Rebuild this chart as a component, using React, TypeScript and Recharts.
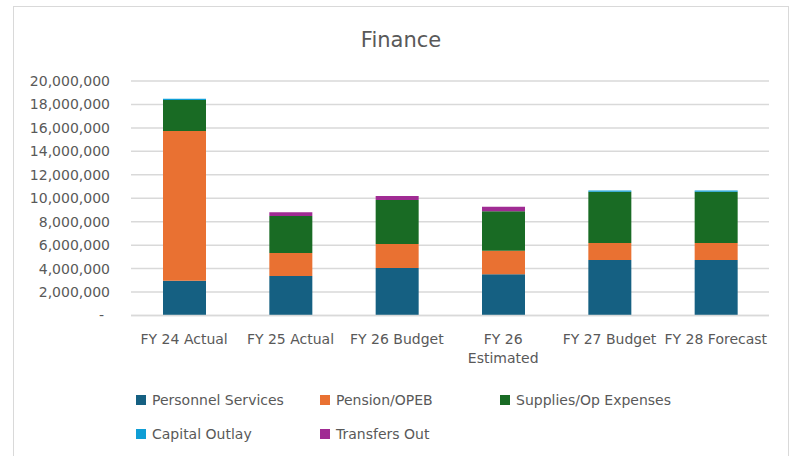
import { BarChart, Bar, XAxis, YAxis, CartesianGrid } from "recharts";

const categories = ["FY 24 Actual", "FY 25 Actual", "FY 26 Budget", "FY 26 Estimated", "FY 27 Budget", "FY 28 Forecast"];

const personnel = [2970000, 3370000, 4050000, 3510000, 4730000, 4730000];
const pension = [12770000, 1960000, 2050000, 2020000, 1450000, 1450000];
const supplies = [2640000, 3160000, 3750000, 3360000, 4380000, 4380000];
const capital = [100000, 0, 0, 0, 100000, 100000];
const transfers = [0, 320000, 340000, 380000, 0, 0];

const yTicks = [0, 2000000, 4000000, 6000000, 8000000, 10000000, 12000000, 14000000, 16000000, 18000000, 20000000];

const series = [
  { key: "personnel", name: "Personnel Services", color: "#156082", values: personnel },
  { key: "pension", name: "Pension/OPEB", color: "#E97132", values: pension },
  { key: "supplies", name: "Supplies/Op Expenses", color: "#196B24", values: supplies },
  { key: "capital", name: "Capital Outlay", color: "#0F9ED5", values: capital },
  { key: "transfers", name: "Transfers Out", color: "#A02B93", values: transfers },
];

const data = categories.map((c, i) => {
  const row: Record<string, string | number> = { cat: c };
  series.forEach((s) => (row[s.key] = s.values[i]));
  return row;
});

const FONT = "'DejaVu Sans', sans-serif";
const GRAY = "#595959";

const fmt = (n: number) => (n === 0 ? "-" : new Intl.NumberFormat("en-US").format(n));

function YTick({ x, y, payload }: any) {
  const zero = payload.value === 0;
  return (
    <text x={zero ? x - 6 : x} y={y} dy="0.35em" textAnchor="end" fill={GRAY} fontSize={14} fontFamily={FONT}>
      {fmt(payload.value)}
    </text>
  );
}

function XTick({ x, y, payload }: any) {
  const label: string = payload.value;
  let lines = [label];
  if (label.length > 14) {
    const cut = label.lastIndexOf(" ");
    lines = [label.slice(0, cut), label.slice(cut + 1)];
  }
  return (
    <text x={x} y={y} textAnchor="middle" fill={GRAY} fontSize={14} fontFamily={FONT}>
      {lines.map((l, i) => (
        <tspan key={i} x={x} dy={i === 0 ? 28.5 : 19}>
          {l}
        </tspan>
      ))}
    </text>
  );
}

export default function App() {
  return (
    <div style={{ position: "absolute", left: 0, top: 0, width: 789, height: 456, overflow: "hidden", background: "#fff", fontFamily: FONT }}>
      <div style={{ position: "absolute", left: 13, top: 6, width: 774, height: 470, border: "1.5px solid #d9d9d9" }} />
      <div style={{ position: "absolute", left: 301, width: 200, top: 28, textAlign: "center", fontSize: 21, color: GRAY }}>
        Finance
      </div>
      <div style={{ position: "absolute", left: 0, top: 0 }}>
        <BarChart width={789} height={456} data={data} margin={{ top: 81, right: 20, bottom: 80.5, left: 0 }}>
          <CartesianGrid vertical={false} stroke="#d9d9d9" strokeWidth={1.5} />
          <XAxis
            dataKey="cat"
            height={60}
            tickLine={false}
            tickSize={0}
            tickMargin={0}
            axisLine={{ stroke: "#d9d9d9", strokeWidth: 1.5 }}
            tick={<XTick />}
            interval={0}
          />
          <YAxis
            width={131}
            domain={[0, 20000000]}
            ticks={yTicks}
            tickLine={false}
            axisLine={false}
            tickSize={0}
            tickMargin={21}
            tick={<YTick />}
          />
          {series.map((s) => (
            <Bar key={s.key} dataKey={s.key} name={s.name} stackId="a" fill={s.color} barSize={43} isAnimationActive={false} />
          ))}
        </BarChart>
      </div>
      {series.map((s, i) => {
        const col = i % 3;
        const row = Math.floor(i / 3);
        const left = [136, 320, 500][col];
        const top = [400, 434][row];
        return (
          <div
            key={s.key}
            style={{ position: "absolute", left, top: top - 9, height: 18, display: "flex", alignItems: "center", fontSize: 14, color: GRAY, whiteSpace: "nowrap" }}
          >
            <span style={{ display: "inline-block", width: 10, height: 10, background: s.color, marginRight: 6 }} />
            {s.name}
          </div>
        );
      })}
    </div>
  );
}
